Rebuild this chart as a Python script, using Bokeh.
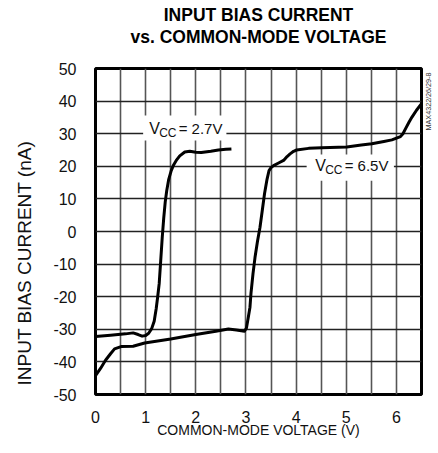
import math
from bokeh.plotting import figure
from bokeh.models import Range1d, FixedTicker, Label, BoxAnnotation, Title, LinearAxis
from bokeh.embed import file_html
from bokeh.resources import INLINE

# ---- data ----
v27_x = [0.0, 0.3, 0.6, 0.75, 0.85, 0.93, 1.0, 1.06, 1.12, 1.17, 1.21, 1.24, 1.27, 1.30,
         1.33, 1.36, 1.39, 1.42, 1.46, 1.51, 1.56, 1.61, 1.68, 1.78, 1.88, 2.0, 2.11,
         2.3, 2.45, 2.6, 2.71]
v27_y = [-32.2, -31.8, -31.4, -31.1, -31.6, -32.1, -31.9, -31.2, -29.8, -27.5, -23.7, -20.0,
         -16.0, -9.0, -2.0, 4.0, 9.0, 12.5, 16.0, 18.7, 20.5, 21.8, 23.2, 24.4, 24.6, 24.3,
         24.2, 24.6, 25.0, 25.2, 25.3]

v65_x = [0.0, 0.1, 0.2, 0.3, 0.38, 0.51, 0.75, 0.98, 1.5, 2.0, 2.4, 2.65, 2.81, 2.97, 3.01,
         3.05, 3.08, 3.10, 3.14, 3.18, 3.23, 3.28, 3.33, 3.37, 3.42, 3.46, 3.5, 3.55, 3.65,
         3.75, 3.82, 3.88, 3.95, 4.01, 4.25, 4.51, 5.01, 5.3, 5.51, 5.75, 5.91, 6.08, 6.13,
         6.18, 6.25, 6.31, 6.4, 6.5]
v65_y = [-44.2, -42.0, -39.5, -37.5, -36.0, -35.3, -35.2, -34.2, -33.0, -31.6, -30.6, -29.9,
         -30.2, -30.6, -29.6, -26.0, -23.2, -19.0, -13.0, -8.0, -3.0, 1.3, 7.0, 11.6, 16.0,
         18.7, 19.6, 20.2, 21.0, 21.8, 23.0, 23.8, 24.6, 25.0, 25.5, 25.7, 25.9, 26.5, 26.9,
         27.6, 28.1, 29.1, 30.0, 31.5, 33.5, 35.1, 37.2, 39.2]

x_ticks = [0, 1, 2, 3, 4, 5, 6]
y_ticks = [-50, -40, -30, -20, -10, 0, 10, 20, 30, 40, 50]
y_tick_labels = ["-50", "-40", "-30", "-20", "-10", "0", "10", "20", "30", "40", "50"]
x_grid = [0.5, 1.0, 1.5, 2.0, 2.5, 3.0, 3.5, 4.0, 4.5, 5.0, 5.5, 6.0]
y_grid = [-40, -30, -20, -10, 0, 10, 20, 30, 40]

title1 = "INPUT BIAS CURRENT"
title2 = "vs. COMMON-MODE VOLTAGE"
x_label = "COMMON-MODE VOLTAGE (V)"
y_label = "INPUT BIAS CURRENT (nA)"
side_code = "MAX4322/26/29-8"
side_code_pos = 31

FONT = "Liberation Sans"

p = figure(frame_width=326, frame_height=326, output_backend="svg", toolbar_location=None,
           x_range=Range1d(0, 6.5), y_range=Range1d(-50, 50),
           min_border_left=94, min_border_right=18, min_border_top=68, min_border_bottom=59)
p.background_fill_color = "white"
p.border_fill_color = "white"
p.outline_line_color = "black"
p.outline_line_width = 3

# grid
p.xgrid.ticker = FixedTicker(ticks=x_grid)
p.ygrid.ticker = FixedTicker(ticks=y_grid)
p.xgrid.grid_line_color = "#555555"
p.xgrid.grid_line_width = 1.6
p.ygrid.grid_line_color = "#222222"
p.ygrid.grid_line_width = 1.3

def bare(ax):
    ax.axis_line_color = None
    ax.major_tick_line_color = None
    ax.minor_tick_line_color = None
    ax.major_tick_out = 0
    ax.major_tick_in = 0
    ax.minor_tick_out = 0
    ax.minor_tick_in = 0

# axes
for ax in (p.xaxis[0], p.yaxis[0]):
    bare(ax)
    ax.major_label_text_font = FONT
    ax.major_label_text_font_size = "16px"
    ax.major_label_text_color = "#111111"
    ax.axis_label_text_font = FONT
    ax.axis_label_text_font_style = "normal"
    ax.axis_label_text_color = "#111111"

p.xaxis.ticker = FixedTicker(ticks=x_ticks)
p.yaxis.ticker = FixedTicker(ticks=y_ticks)
p.yaxis.major_label_overrides = dict(zip(y_ticks, y_tick_labels))
p.xaxis.major_label_standoff = 16
p.yaxis.major_label_standoff = 19
p.xaxis.axis_label = x_label
p.xaxis.axis_label_text_font_size = "14px"
p.xaxis.axis_label_standoff = -4

# y label as a left title, anchored near the frame bottom like the reference
p.add_layout(Title(text=y_label, align="left", offset=9, standoff=27, vertical_align="top",
                   text_font=FONT, text_font_size="19px", text_font_style="normal",
                   text_color="#111111"), "left")

# side code on a right axis
rax = LinearAxis(ticker=FixedTicker(ticks=[side_code_pos]),
                 major_label_overrides={side_code_pos: side_code},
                 major_label_orientation=math.pi / 2,
                 major_label_standoff=7, major_label_text_font=FONT,
                 major_label_text_font_size="7.2px", major_label_text_color="#333333")
bare(rax)
p.add_layout(rax, "right")

# title lines as labels of tick-less axes above the frame (first added is nearest the frame)
for txt, standoff in ((title2, 22), (title1, -1)):
    tax = LinearAxis(ticker=FixedTicker(ticks=[]), axis_label=txt,
                     axis_label_standoff=standoff, major_label_standoff=0,
                     axis_label_text_font=FONT, axis_label_text_font_size="17.5px",
                     axis_label_text_font_style="bold", axis_label_text_color="black")
    bare(tax)
    p.add_layout(tax, "above")

# curves
p.line(v27_x, v27_y, line_color="black", line_width=3, line_join="round")
p.line(v65_x, v65_y, line_color="black", line_width=3, line_join="round")

# annotation boxes and labels
p.add_layout(BoxAnnotation(left=0.95, right=2.61, bottom=27.9, top=35.6,
                           fill_color="white", fill_alpha=1.0, line_color=None))
p.add_layout(BoxAnnotation(left=4.21, right=5.95, bottom=15.6, top=23.6,
                           fill_color="white", fill_alpha=1.0, line_color=None))

def vcc_label(x, y, rest):
    p.add_layout(Label(x=x, y=y, text="V", text_font=FONT, text_font_size="16px",
                       text_align="left", text_baseline="alphabetic", text_color="#111111"))
    p.add_layout(Label(x=x, y=y, x_offset=10, y_offset=-4, text="CC", text_font=FONT,
                       text_font_size="12px", text_align="left", text_baseline="alphabetic",
                       text_color="#111111"))
    p.add_layout(Label(x=x, y=y, x_offset=29.5, text=rest, text_font=FONT,
                       text_font_size="15px", text_align="left", text_baseline="alphabetic",
                       text_color="#111111"))

vcc_label(1.07, 31.5, "= 2.7V")
vcc_label(4.38, 20.1, "= 6.5V")

open("out.html", "w").write(file_html(p, INLINE))
